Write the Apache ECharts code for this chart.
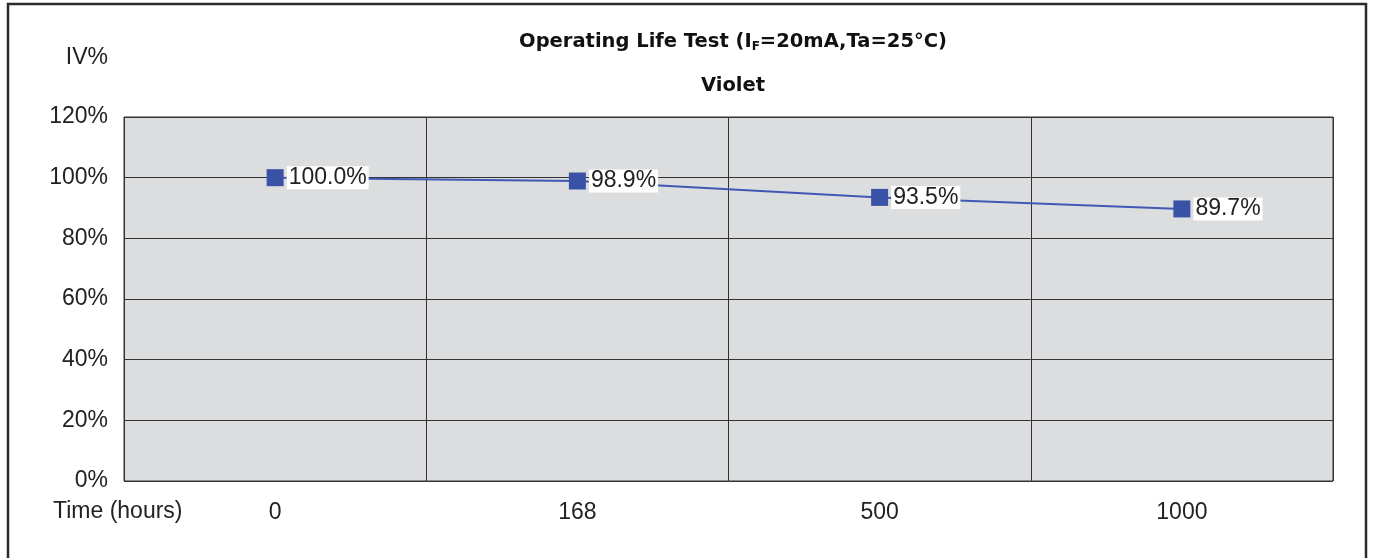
<!DOCTYPE html>
<html>
<head>
<meta charset="utf-8">
<script src="https://cdn.jsdelivr.net/npm/echarts@6/dist/echarts.min.js"></script>
<style>
  html, body { margin: 0; padding: 0; background: #fff; }
  #chart { width: 1373px; height: 558px; }
</style>
</head>
<body>
<div id="chart"></div>
<script>
// data
const hours = ['0', '168', '500', '1000'];
const ivPercent = [100.0, 98.9, 93.5, 89.7];
const yTicks = [0, 20, 40, 60, 80, 100, 120];

const font = '"Liberation Sans", Arial, sans-serif';
const titleFont = '"DejaVu Sans", sans-serif';
const myChart = echarts.init(document.getElementById('chart'));

const options = {
    animation: false,
    backgroundColor: '#fff',
    title: [
        {
            text: '{b|Operating Life Test (I}{s|F}{b|=20mA,Ta=25°C)}',
            left: 728,
            top: 26,
            textAlign: 'center',
            textStyle: {
                rich: {
                    b: { fontFamily: titleFont, fontWeight: 'bold', fontSize: 19.5, color: '#111' },
                    s: { fontFamily: titleFont, fontWeight: 'bold', fontSize: 12, color: '#111', padding: [10, 0, 0, 0] }
                }
            }
        },
        {
            text: 'Violet',
            left: 728,
            top: 71,
            textAlign: 'center',
            textStyle: { fontFamily: titleFont, fontWeight: 'bold', fontSize: 19.5, color: '#111' }
        }
    ],
    // 外框 + 轴名称
    graphic: [
        {
            type: 'polyline',
            shape: { points: [[8, 560], [8, 4], [1366, 4], [1366, 560]] },
            style: { stroke: '#2b2b2b', lineWidth: 2.5, fill: null }
        },
        {
            type: 'text',
            right: 1373 - 108,
            top: 46,
            style: { text: 'IV%', font: '23px ' + font, fill: '#222', textAlign: 'right' }
        },
        {
            type: 'text',
            left: 53,
            top: 500,
            style: { text: 'Time (hours)', font: '23px ' + font, fill: '#222' }
        }
    ],
    grid: {
        left: 124,
        right: 40,
        top: 117,
        bottom: 77,
        show: true,
        backgroundColor: '#dcdddf',
        borderColor: '#333',
        borderWidth: 1
    },
    xAxis: {
        type: 'category',
        data: hours,
        boundaryGap: true,
        axisLine: { show: false },
        axisTick: { show: false },
        axisLabel: { color: '#222', fontFamily: font, fontSize: 23, margin: 20 },
        splitLine: { show: true, lineStyle: { color: '#333', width: 1 } }
    },
    yAxis: {
        type: 'value',
        min: yTicks[0],
        max: yTicks[yTicks.length - 1],
        interval: 20,
        axisLine: { show: false },
        axisTick: { show: false },
        axisLabel: {
            color: '#222', fontFamily: font, fontSize: 23, margin: 16,
            formatter: (v) => v + '%'
        },
        splitLine: { show: true, lineStyle: { color: '#333', width: 1 } }
    },
    series: [
        {
            type: 'line',
            data: ivPercent,
            symbol: 'rect',
            symbolSize: 17,
            itemStyle: { color: '#3a52a6' },
            lineStyle: { color: '#4058b4', width: 2 },
            label: {
                show: true,
                position: 'right',
                distance: 3,
                color: '#222',
                fontFamily: font,
                fontSize: 23,
                backgroundColor: '#fff',
                padding: [0, 2, 0, 2],
                formatter: (p) => p.value.toFixed(1) + '%'
            }
        }
    ]
};

myChart.setOption(options);
</script>
</body>
</html>
